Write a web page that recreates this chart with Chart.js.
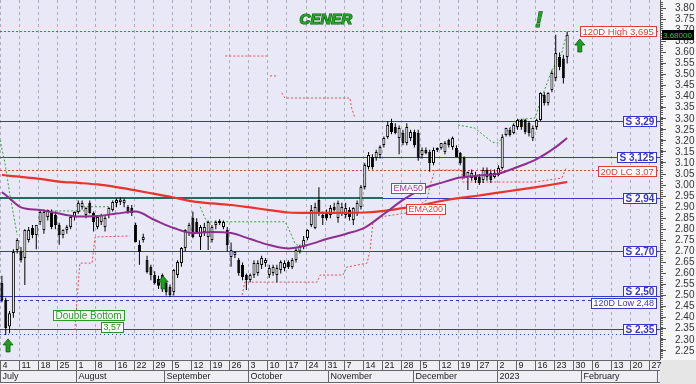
<!DOCTYPE html>
<html>
<head>
<meta charset="utf-8">
<title>CENER</title>
<script src="https://cdn.jsdelivr.net/npm/chart.js@4.4.1/dist/chart.umd.min.js"></script>
<style>
html,body{margin:0;padding:0;background:#ffffff;overflow:hidden;}
canvas{display:block;}
</style>
</head>
<body>
<canvas id="chart" width="696" height="384"></canvas>
<script>
// ---------- DATA ----------
const openP = [2.557,2.480,2.360,2.421,2.706,2.700,2.670,2.752,2.806,2.774,
 2.833,2.797,2.856,2.874,2.865,2.819,2.774,2.797,2.810,2.856,
 2.878,2.901,2.865,2.919,2.874,2.810,2.833,2.810,2.865,2.887,
 2.919,2.924,2.919,2.901,2.896,2.819,2.729,2.752,2.661,2.630,
 2.593,2.575,2.593,2.557,2.539,2.516,2.593,2.647,2.715,2.783,
 2.851,2.833,2.765,2.788,2.765,2.752,2.819,2.828,2.810,2.797,
 2.675,2.684,2.661,2.638,2.593,2.571,2.593,2.602,2.638,2.647,
 2.593,2.602,2.593,2.616,2.625,2.652,2.629,2.661,2.700,2.720,
 2.761,2.819,2.806,2.933,2.865,2.874,2.865,2.901,2.851,2.874,
 2.865,2.887,2.842,2.874,2.901,2.991,3.082,3.127,3.123,3.136,
 3.181,3.218,3.281,3.263,3.213,3.236,3.190,3.213,3.240,3.236,
 3.136,3.159,3.150,3.100,3.159,3.168,3.150,3.204,3.172,3.168,
 3.145,3.123,3.037,3.032,3.046,3.037,3.023,3.068,3.055,3.037,
 3.046,3.077,3.227,3.249,3.236,3.263,3.295,3.295,3.281,3.213,
 3.263,3.295,3.408,3.371,3.430,3.485,3.580,3.573,3.580];
const highP = [2.59,2.49,2.43,2.71,2.76,2.72,2.80,2.81,2.82,2.82,
 2.89,2.89,2.89,2.89,2.88,2.83,2.80,2.82,2.86,2.88,
 2.93,2.93,2.90,2.93,2.88,2.86,2.87,2.86,2.90,2.93,
 2.94,2.945,2.94,2.91,2.91,2.83,2.75,2.78,2.68,2.64,
 2.61,2.59,2.60,2.57,2.55,2.62,2.66,2.72,2.80,2.83,
 2.88,2.85,2.82,2.83,2.84,2.82,2.84,2.845,2.84,2.81,
 2.74,2.70,2.67,2.65,2.60,2.60,2.66,2.66,2.68,2.67,
 2.64,2.64,2.64,2.66,2.66,2.66,2.67,2.72,2.73,2.77,
 2.80,2.91,2.92,2.99,2.88,2.89,2.91,2.92,2.93,2.92,
 2.92,2.90,2.90,2.93,3.00,3.10,3.15,3.14,3.16,3.18,
 3.22,3.29,3.30,3.28,3.27,3.25,3.28,3.25,3.25,3.25,
 3.17,3.17,3.16,3.17,3.17,3.19,3.20,3.21,3.22,3.18,
 3.15,3.13,3.06,3.07,3.06,3.05,3.08,3.08,3.07,3.07,
 3.09,3.23,3.26,3.26,3.28,3.30,3.30,3.30,3.29,3.27,
 3.30,3.42,3.42,3.42,3.52,3.68,3.60,3.59,3.695];
const lowP = [2.47,2.322,2.33,2.40,2.69,2.65,2.548,2.74,2.76,2.71,
 2.82,2.78,2.84,2.80,2.80,2.73,2.76,2.78,2.80,2.84,
 2.87,2.89,2.85,2.87,2.79,2.80,2.82,2.79,2.85,2.88,
 2.90,2.91,2.90,2.87,2.86,2.74,2.64,2.74,2.60,2.57,
 2.55,2.53,2.516,2.50,2.494,2.50,2.58,2.63,2.70,2.77,
 2.76,2.78,2.706,2.77,2.706,2.74,2.80,2.82,2.80,2.70,
 2.63,2.67,2.59,2.57,2.525,2.56,2.58,2.59,2.62,2.63,
 2.58,2.59,2.56,2.60,2.61,2.62,2.62,2.65,2.69,2.71,
 2.75,2.81,2.80,2.86,2.82,2.84,2.85,2.88,2.83,2.86,
 2.85,2.84,2.82,2.86,2.89,2.98,3.07,3.07,3.11,3.12,
 3.17,3.21,3.23,3.23,3.14,3.18,3.18,3.20,3.17,3.11,
 3.12,3.14,3.06,3.09,3.15,3.16,3.14,3.17,3.16,3.13,
 3.09,3.03,2.978,3.02,3.01,3.00,3.01,3.02,3.01,3.03,
 3.04,3.07,3.22,3.22,3.23,3.25,3.25,3.23,3.22,3.20,
 3.25,3.29,3.36,3.36,3.42,3.47,3.52,3.46,3.55];
const closeP = [2.480,2.353,2.420,2.697,2.752,2.660,2.797,2.797,2.774,2.819,
 2.878,2.878,2.887,2.810,2.819,2.774,2.797,2.810,2.856,2.878,
 2.919,2.919,2.896,2.874,2.833,2.856,2.865,2.851,2.896,2.924,
 2.933,2.935,2.933,2.878,2.874,2.743,2.697,2.765,2.607,2.593,
 2.557,2.545,2.534,2.516,2.503,2.616,2.652,2.715,2.797,2.819,
 2.765,2.788,2.810,2.810,2.833,2.810,2.833,2.838,2.833,2.729,
 2.706,2.697,2.602,2.584,2.571,2.593,2.647,2.647,2.670,2.661,
 2.625,2.629,2.625,2.652,2.647,2.629,2.661,2.706,2.720,2.752,
 2.797,2.887,2.901,2.874,2.851,2.851,2.896,2.887,2.919,2.901,
 2.896,2.856,2.896,2.919,2.991,3.091,3.136,3.082,3.150,3.172,
 3.213,3.272,3.240,3.236,3.258,3.190,3.263,3.240,3.181,3.123,
 3.159,3.145,3.100,3.159,3.168,3.190,3.190,3.181,3.213,3.127,
 3.100,3.037,3.059,3.055,3.023,3.010,3.068,3.037,3.023,3.055,
 3.077,3.218,3.258,3.227,3.272,3.295,3.263,3.240,3.236,3.258,
 3.295,3.417,3.371,3.417,3.507,3.598,3.534,3.485,3.680];

// moving averages, read at weekly sample points (trading-day index)
const emaIdx = [0,2,5,10,15,20,25,30,35,40,45,50,55,60,65,70,75,80,85,90,95,100,105,110,115,120,125,130,135,140,145,148];
const ema50  = [2.969,2.940,2.899,2.887,2.871,2.858,2.860,2.871,2.880,2.842,2.806,2.783,2.788,2.783,2.756,2.729,2.713,2.729,2.756,2.779,2.808,2.869,2.933,2.982,3.010,3.034,3.043,3.052,3.082,3.118,3.172,3.213];
const ema200 = [3.046,3.042,3.037,3.028,3.016,3.010,3.003,2.991,2.976,2.960,2.944,2.926,2.917,2.910,2.899,2.887,2.876,2.874,2.874,2.874,2.876,2.883,2.896,2.910,2.928,2.942,2.953,2.966,2.978,2.991,3.005,3.014];

// trailing stop lines [index, value]; null value breaks the line
const greenStop = [[-0.5,3.204],[0.8,3.10],[2.1,2.955],[4,2.774],[4,null],
 [10.8,2.883],[21.5,2.883],[21.5,2.902],[29.5,2.902],[29.5,null],
 [51.9,2.902],[53.6,2.834],[74.1,2.834],[74.9,2.81],[76.7,2.738],[78,2.72],[78,null],
 [119.4,3.272],[123.8,3.258],[128.3,3.195],[129.9,3.19],[132.5,3.249],[135.1,3.295],[139.6,3.304],[141.4,3.399],[144,3.521],[146.6,3.598],[147.9,3.688]];
const redStop = [[19.1,2.344],[20.4,2.647],[23.6,2.647],[24.4,2.765],[33.5,2.77],[33.5,null],
 [58.5,3.584],[69.4,3.584],[69.4,null],[70.2,3.494],[72.3,3.494],[72.3,null],
 [73.3,3.417],[74.1,3.394],[91.1,3.394],[91.5,3.353],[92.4,3.304],[92.4,null],
 [62.9,2.503],[63.6,2.561],[82.5,2.561],[83.3,2.593],[89.3,2.593],[90.3,2.629],[95.6,2.647],[96.4,2.706],[97.1,2.828],[99,2.856],[106,2.874],[111.3,2.933],[112.1,3.0],[113.4,3.068],[120.4,3.068],[120.6,3.014],[139.6,3.014],[146.6,3.032],[147.7,3.077]];

// horizontal levels
const supportLevels = [3.29, 3.125, 2.94, 2.70, 2.50, 2.35];
const supportLabels = ['S 3,29', 'S 3,125', 'S 2,94', 'S 2,70', 'S 2,50', 'S 2,35'];
const redLevels = [3.695, 3.07];
const redLabels = ['120D High 3,695', '20D LC 3,07'];
const lowLevel = 2.48, lowLabel = '120D Low 2,48';
const dottedLevel = 2.325;
const necklineLevel = 2.94, necklineEnd = 99.8;
const lastPrice = 3.68, lastPriceLabel = '3.68000';

// annotations
const arrowIdx = [1.6, 42.2, 151.3];
const arrowTip = [2.304, 2.589, 3.661];

// axis labels
const yTicks = [2.25,2.30,2.35,2.40,2.45,2.50,2.55,2.60,2.65,2.70,2.75,2.80,2.85,2.90,2.95,3.00,3.05,3.10,3.15,3.20,3.25,3.30,3.35,3.40,3.45,3.50,3.55,3.60,3.65,3.70,3.75,3.80];
const dayLabels = ['4','11','18','25','1','8','16','22','29','5','12','19','26','3','10','17','24','31','7','14','21','28','5','12','19','27','2','9','16','23','30','6','13','20','27'];
const weekStart = [0,5,10,15,20,25,30,35,40,45,50,55,60,65,70,75,80,85,90,95,100,105,110,115,120,125,130,135,140,145,150,155,160,165,170];
const monthLabels = ['July','August','September','October','November','December','2023','February'];
const monthStart = [0,20,43,65,86,108,130,152];

// ---------- CHART ----------
const FONT = '"Liberation Sans", Arial, Helvetica, sans-serif';
Chart.defaults.font.family = FONT;

const BLUE = '#3636CC', RED = '#E03C3C', GREEN = '#22A022', PURPLE = '#8E2E8E';

function toXY(arr) { return arr.map(p => ({x: p[0], y: p[1]})); }

function boxAt(ctx, text, left, yc, color, font, bg) {
  ctx.font = font;
  const w = Math.ceil(ctx.measureText(text).width) + 4, h = 10;
  const l = Math.round(left) + 0.5, t = Math.round(yc - h / 2) + 0.5;
  ctx.setLineDash([]);
  ctx.fillStyle = bg || '#ffffff'; ctx.fillRect(l, t, w, h);
  ctx.strokeStyle = color; ctx.lineWidth = 1; ctx.strokeRect(l, t, w, h);
  ctx.fillStyle = color; ctx.textAlign = 'left'; ctx.textBaseline = 'middle';
  ctx.fillText(text, l + 2, t + h / 2 + 0.5);
}
function boxRight(ctx, text, right, yc, color, font) {
  ctx.font = font;
  const w = Math.ceil(ctx.measureText(text).width) + 4;
  boxAt(ctx, text, right - w, yc, color, font);
}
function boxCenter(ctx, text, cx, yc, color, font, bg) {
  ctx.font = font;
  const w = Math.ceil(ctx.measureText(text).width) + 4;
  boxAt(ctx, text, cx - w / 2, yc, color, font, bg);
}
function arrowUp(ctx, cx, tip) {
  ctx.beginPath();
  ctx.moveTo(cx, tip); ctx.lineTo(cx + 5, tip + 6); ctx.lineTo(cx + 2, tip + 6);
  ctx.lineTo(cx + 2, tip + 13); ctx.lineTo(cx - 2, tip + 13); ctx.lineTo(cx - 2, tip + 6);
  ctx.lineTo(cx - 5, tip + 6); ctx.closePath();
  ctx.fillStyle = '#1EA01E'; ctx.fill();
  ctx.strokeStyle = '#0C5C0C'; ctx.lineWidth = 0.8; ctx.setLineDash([]); ctx.stroke();
}

const backgroundPlugin = {
  id: 'bg',
  beforeDraw(chart) {
    const {ctx, chartArea: a, width, height} = chart;
    ctx.save();
    ctx.fillStyle = '#F6F6F8'; ctx.fillRect(0, 0, width, height);
    ctx.fillStyle = '#E8E8F6'; ctx.fillRect(a.left, a.top, a.right - a.left, a.bottom - a.top);
    ctx.restore();
  }
};

const levelsPlugin = {
  id: 'levels',
  beforeDatasetsDraw(chart) {
    const {ctx, chartArea: a, scales: {x, y}} = chart;
    const py = v => Math.round(y.getPixelForValue(v)) + 0.5;
    const hl = (yy, x0, x1) => { ctx.beginPath(); ctx.moveTo(x0, yy); ctx.lineTo(x1, yy); ctx.stroke(); };
    ctx.save();
    ctx.beginPath(); ctx.rect(a.left, a.top, a.right - a.left, a.bottom - a.top); ctx.clip();
    ctx.strokeStyle = '#ADADC0'; ctx.lineWidth = 1; ctx.setLineDash([3, 3]);
    weekStart.forEach(w => {
      const px = Math.round(x.getPixelForValue(w - 0.5)) + 0.5;
      ctx.beginPath(); ctx.moveTo(px, a.top); ctx.lineTo(px, a.bottom); ctx.stroke();
    });
    ctx.strokeStyle = RED; ctx.setLineDash([2, 2]);
    redLevels.forEach(v => hl(py(v), a.left, a.right));
    ctx.strokeStyle = BLUE; ctx.setLineDash([3, 3]);
    hl(py(lowLevel), a.left, a.right);
    ctx.setLineDash([1, 3]);
    hl(py(dottedLevel), a.left, a.right);
    ctx.setLineDash([]);
    supportLevels.forEach(v => hl(py(v), a.left, a.right));
    ctx.strokeStyle = '#246A60'; ctx.lineWidth = 2;
    const ny = Math.round(y.getPixelForValue(necklineLevel));
    hl(ny, a.left, x.getPixelForValue(necklineEnd));
    ctx.restore();
  }
};

const labelsPlugin = {
  id: 'labels',
  afterDatasetsDraw(chart) {
    const {ctx, chartArea: a, scales: {x, y}} = chart;
    const right = a.right - 4;
    ctx.save();
    const bold = 'bold 10px ' + FONT, norm = '9.5px ' + FONT, small = '9px ' + FONT;
    boxRight(ctx, redLabels[0], right, y.getPixelForValue(redLevels[0]) - 0.5, RED, norm);
    boxRight(ctx, redLabels[1], right, y.getPixelForValue(redLevels[1]) + 1.5, RED, norm);
    const dys = [0, 0, 0, 0, -5, 0];
    supportLevels.forEach((v, k) => boxRight(ctx, supportLabels[k], right, y.getPixelForValue(v) + dys[k], BLUE, bold));
    boxRight(ctx, lowLabel, right, y.getPixelForValue(lowLevel) + 2.5, BLUE, small);
    boxCenter(ctx, 'EMA50', x.getPixelForValue(106.3), y.getPixelForValue(2.987), '#9A3A9A', small);
    boxCenter(ctx, 'EMA200', x.getPixelForValue(110.9), y.getPixelForValue(2.892), RED, small);
    boxCenter(ctx, 'Double Bottom', x.getPixelForValue(22.7), y.getPixelForValue(2.41), '#2E9A2E', '10px ' + FONT, '#F6FFF6');
    boxCenter(ctx, '3,57', x.getPixelForValue(28.9), y.getPixelForValue(2.356), '#2E8A2E', small, '#F6FFF6');
    arrowIdx.forEach((ix, k) => arrowUp(ctx, x.getPixelForValue(ix), y.getPixelForValue(arrowTip[k])));
    ctx.textAlign = 'center'; ctx.textBaseline = 'middle';
    ctx.font = 'italic bold 15px ' + FONT;
    ctx.lineWidth = 1.2; ctx.strokeStyle = '#0B520B';
    const tx = x.getPixelForValue(84.8), ty = y.getPixelForValue(3.747);
    ctx.strokeText('CENER', tx, ty);
    ctx.fillStyle = '#22A522'; ctx.fillText('CENER', tx, ty);
    // exclamation mark, slanted
    const ex = x.getPixelForValue(140.6), ey = y.getPixelForValue(3.742);
    ctx.save();
    ctx.translate(ex, ey);
    ctx.transform(1, 0, -0.2, 1, 0, 0);
    ctx.font = 'bold 22px ' + FONT;
    ctx.lineWidth = 1;
    ctx.strokeText('!', 0, 0);
    ctx.fillText('!', 0, 0);
    ctx.restore();
    ctx.restore();
  }
};

const axisExtrasPlugin = {
  id: 'axisExtras',
  afterDraw(chart) {
    const {ctx, chartArea: a, scales: {x, y}, width} = chart;
    ctx.save();
    ctx.strokeStyle = '#555'; ctx.lineWidth = 1; ctx.setLineDash([]);
    for (let v = 2.21; v < 3.84; v += 0.01) {
      const yy = Math.round(y.getPixelForValue(v)) + 0.5;
      ctx.beginPath(); ctx.moveTo(a.right, yy); ctx.lineTo(a.right + 3, yy); ctx.stroke();
    }
    const lp = y.getPixelForValue(lastPrice);
    ctx.fillStyle = '#000'; ctx.fillRect(a.right + 2, Math.round(lp - 5), 32, 10);
    ctx.fillStyle = '#22D022'; ctx.font = '8px ' + FONT; ctx.textAlign = 'left'; ctx.textBaseline = 'middle';
    ctx.fillText(lastPriceLabel, a.right + 3, Math.round(lp) + 0.5);
    const top = a.bottom, r1 = top + 10, r2 = top + 22;
    ctx.fillStyle = '#EEEEF4'; ctx.fillRect(a.left, top, a.right - a.left, 22);
    ctx.fillStyle = '#E6E6E6'; ctx.fillRect(a.right, top, width - a.right, 24);
    ctx.strokeStyle = '#666';
    const hl = (yy) => { ctx.beginPath(); ctx.moveTo(a.left, yy); ctx.lineTo(a.right, yy); ctx.stroke(); };
    hl(top + 0.5); hl(r1 + 0.5); hl(r2 + 0.5);
    ctx.font = '9px ' + FONT; ctx.fillStyle = '#222'; ctx.textAlign = 'left'; ctx.textBaseline = 'middle';
    ctx.beginPath(); ctx.rect(a.left, top, a.right - a.left + 2, 24); ctx.clip();
    weekStart.forEach((w, k) => {
      const px = Math.round(x.getPixelForValue(w - 0.5)) + 0.5;
      if (px > a.right) return;
      ctx.beginPath(); ctx.moveTo(px, top); ctx.lineTo(px, r1); ctx.stroke();
      ctx.fillText(dayLabels[k], px + 2, top + 5.5);
    });
    monthStart.forEach((m, k) => {
      const px = Math.round(x.getPixelForValue(m - 0.5)) + 0.5;
      if (px > a.right) return;
      ctx.beginPath(); ctx.moveTo(px, r1); ctx.lineTo(px, r2); ctx.stroke();
      ctx.fillText(monthLabels[k], px + 2, r1 + 6.5);
    });
    ctx.beginPath(); ctx.moveTo(a.right - 2.5, r1); ctx.lineTo(a.right - 2.5, r2); ctx.stroke();
    ctx.restore();
  }
};

const bodyColors = openP.map((o, i) => closeP[i] >= o ? '#ffffff' : '#000000');

new Chart(document.getElementById('chart'), {
  type: 'bar',
  data: {
    datasets: [
      { type: 'line', label: 'EMA50', data: emaIdx.map((ix, k) => ({x: ix, y: ema50[k]})),
        borderColor: PURPLE, borderWidth: 2, pointRadius: 0, cubicInterpolationMode: 'monotone', order: 0 },
      { type: 'line', label: 'EMA200', data: emaIdx.map((ix, k) => ({x: ix, y: ema200[k]})),
        borderColor: '#E8342A', borderWidth: 2.2, pointRadius: 0, cubicInterpolationMode: 'monotone', order: 0 },
      { type: 'bar', label: 'body', data: openP.map((o, i) => ({x: i, y: [o, closeP[i]]})),
        backgroundColor: bodyColors, borderColor: '#000000', borderWidth: 1, borderSkipped: false,
        barThickness: 3, grouped: false, inflateAmount: 0, order: 1 },
      { type: 'bar', label: 'wick', data: lowP.map((l, i) => ({x: i, y: [l, highP[i]]})),
        backgroundColor: '#000000', borderWidth: 0, barThickness: 1, grouped: false, inflateAmount: 0, order: 2 },
      { type: 'line', label: 'stopG', data: toXY(greenStop), borderColor: '#3E9E3E', borderWidth: 1,
        borderDash: [2, 2], pointRadius: 0, spanGaps: false, tension: 0, order: 3 },
      { type: 'line', label: 'stopR', data: toXY(redStop), borderColor: '#E05050', borderWidth: 1,
        borderDash: [2, 2], pointRadius: 0, spanGaps: false, tension: 0, order: 3 }
    ]
  },
  options: {
    responsive: false,
    animation: false,
    events: [],
    layout: { padding: 0, autoPadding: false },
    plugins: { legend: { display: false }, tooltip: { enabled: false } },
    scales: {
      x: {
        type: 'linear', min: -0.5, max: 172.3, offset: false,
        grid: { display: false }, border: { display: false }, ticks: { display: false },
        afterFit(s) { s.height = 24; s.paddingLeft = 0; s.paddingRight = 0; }
      },
      y: {
        type: 'linear', position: 'right', min: 2.2086, max: 3.8375, beginAtZero: false,
        afterBuildTicks(s) { s.ticks = yTicks.map(v => ({value: v})); },
        afterFit(s) { s.width = 36; s.paddingTop = 0; s.paddingBottom = 0; },
        ticks: { callback: v => Number(v).toFixed(2), color: '#333', font: { size: 10 }, padding: 9, autoSkip: false },
        grid: { drawOnChartArea: false, drawTicks: true, tickLength: 6, color: '#555' },
        border: { display: true, color: '#555' }
      }
    }
  },
  plugins: [backgroundPlugin, levelsPlugin, labelsPlugin, axisExtrasPlugin]
});
</script>
</body>
</html>
